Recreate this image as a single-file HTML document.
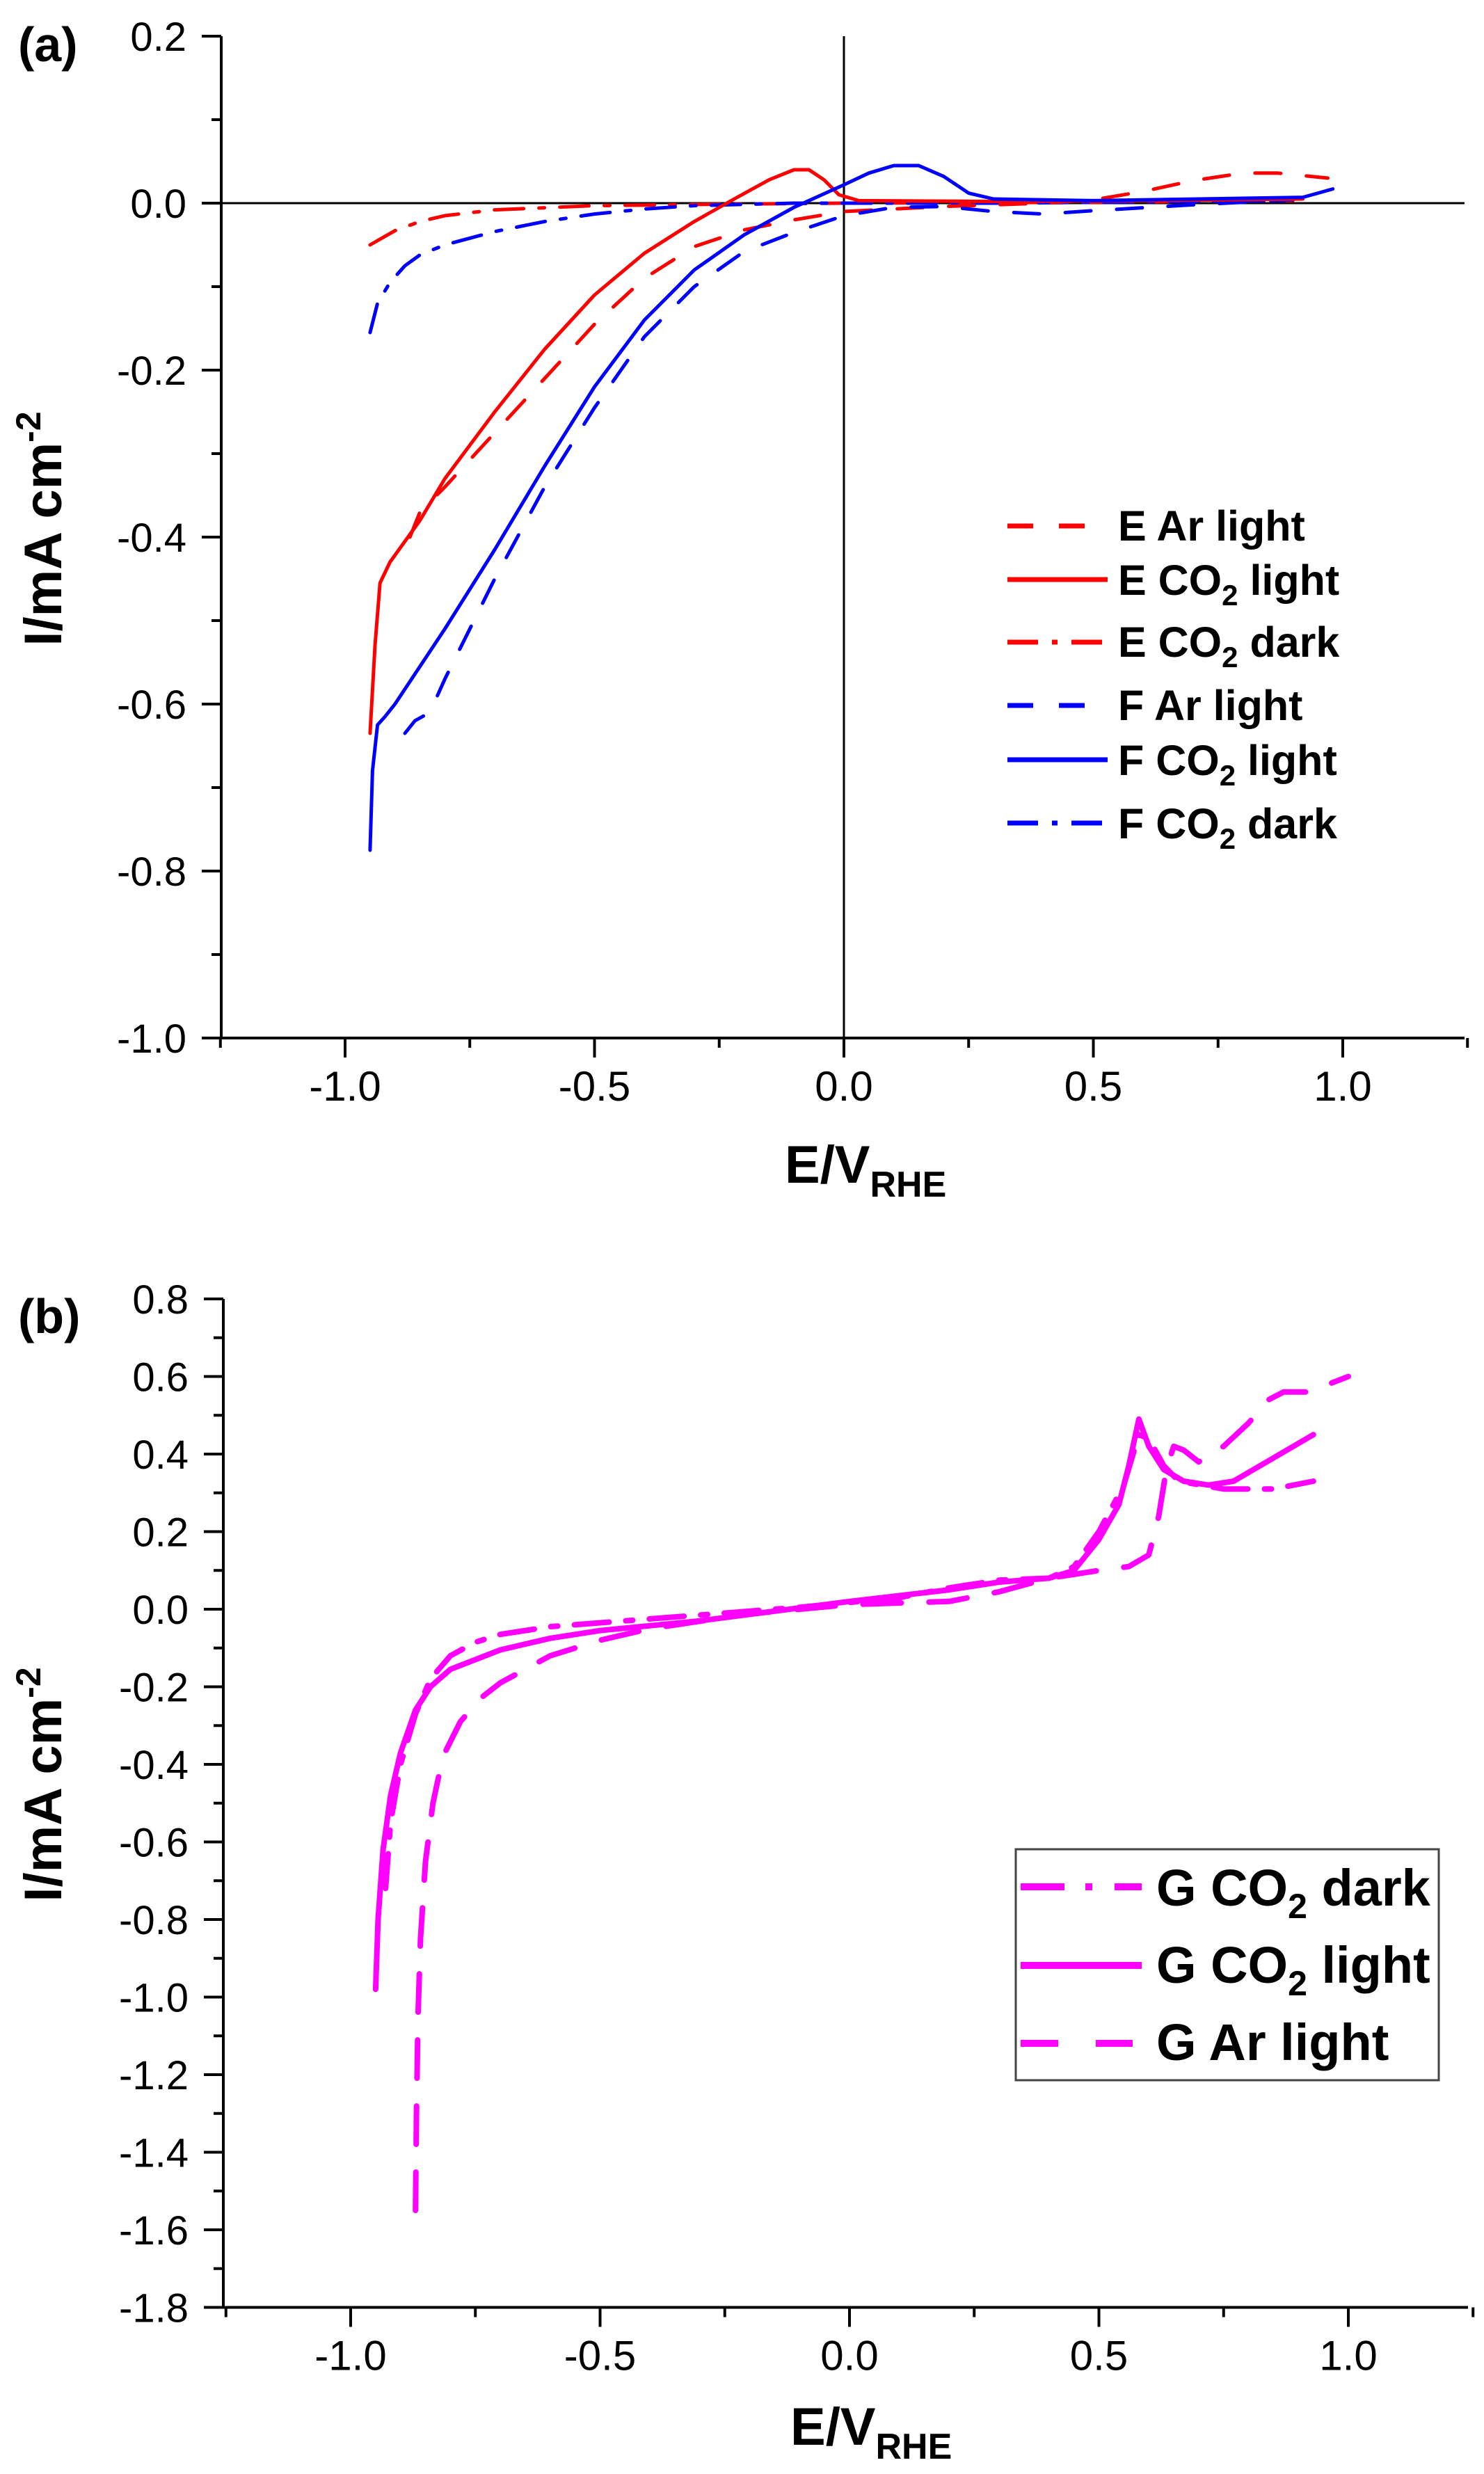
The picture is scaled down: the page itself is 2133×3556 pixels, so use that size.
<!DOCTYPE html>
<html><head><meta charset="utf-8"><style>
html,body{margin:0;padding:0;background:#fff}
svg{display:block}
text{font-family:"Liberation Sans",Arial,sans-serif;fill:#000}
</style></head><body>
<svg id="s" width="2133" height="3556" viewBox="0 0 2133 3556" xmlns="http://www.w3.org/2000/svg">
<rect width="2133" height="3556" fill="#fff"/>
<g id="g"></g>
<!-- panel labels -->
<text x="26" y="88" font-size="70" font-weight="bold">(a)</text>
<text x="26" y="1916" font-size="70" font-weight="bold">(b)</text>
<!-- axis titles -->
<text x="1128" y="1700" font-size="76" font-weight="bold">E/V<tspan font-size="52" dy="20">RHE</tspan></text>
<text x="1136" y="3514" font-size="76" font-weight="bold">E/V<tspan font-size="52" dy="20">RHE</tspan></text>
<text transform="translate(88,760) rotate(-90)" font-size="76" font-weight="bold" text-anchor="middle">I/mA cm<tspan font-size="50" dy="-30">-2</tspan></text>
<text transform="translate(88,2565) rotate(-90)" font-size="76" font-weight="bold" text-anchor="middle">I/mA cm<tspan font-size="50" dy="-30">-2</tspan></text>
<!-- legend a -->
<g font-size="61" font-weight="bold">
<text x="1607" y="777">E Ar light</text>
<text x="1607" y="855">E CO<tspan font-size="42" dy="15">2</tspan><tspan dy="-15"> light</tspan></text>
<text x="1607" y="944">E CO<tspan font-size="42" dy="15">2</tspan><tspan dy="-15"> dark</tspan></text>
<text x="1607" y="1035">F Ar light</text>
<text x="1607" y="1114">F CO<tspan font-size="42" dy="15">2</tspan><tspan dy="-15"> light</tspan></text>
<text x="1607" y="1205">F CO<tspan font-size="42" dy="15">2</tspan><tspan dy="-15"> dark</tspan></text>
</g>
<g stroke-width="7" fill="none">
<line x1="1448" y1="756" x2="1590" y2="756" stroke="#f00" stroke-dasharray="37,37"/>
<line x1="1448" y1="833" x2="1592" y2="833" stroke="#f00"/>
<line x1="1448" y1="923" x2="1585" y2="923" stroke="#f00" stroke-dasharray="44,20,8,20"/>
<line x1="1448" y1="1014" x2="1590" y2="1014" stroke="#00f" stroke-dasharray="37,37"/>
<line x1="1448" y1="1092" x2="1592" y2="1092" stroke="#00f"/>
<line x1="1448" y1="1183" x2="1585" y2="1183" stroke="#00f" stroke-dasharray="44,20,8,20"/>
</g>
<!-- legend b -->
<rect x="1460" y="2658" width="608" height="332" fill="#fff" stroke="#444" stroke-width="3"/>
<g font-size="74" font-weight="bold">
<text x="1662" y="2739">G CO<tspan font-size="50" dy="18">2</tspan><tspan dy="-18"> dark</tspan></text>
<text x="1662" y="2850">G CO<tspan font-size="50" dy="18">2</tspan><tspan dy="-18"> light</tspan></text>
<text x="1662" y="2961">G Ar light</text>
</g>
<g stroke="#f0f" stroke-width="10" fill="none">
<line x1="1467" y1="2712" x2="1641" y2="2712" stroke-dasharray="63,30,10,32"/>
<line x1="1467" y1="2825" x2="1641" y2="2825"/>
<line x1="1467" y1="2937" x2="1628" y2="2937" stroke-dasharray="54,54"/>
</g>
</svg>
<script>
var NS="http://www.w3.org/2000/svg",g=document.getElementById('g');
function el(t,a,p){var e=document.createElementNS(NS,t);for(var k in a)e.setAttribute(k,a[k]);(p||g).appendChild(e);return e;}
function txt(x,y,s,anchor,fs){var t=el('text',{x:x,y:y,'font-size':fs,'text-anchor':anchor});t.textContent=s;}
function fmt(v){var s=v.toFixed(1);if(s==="-0.0")s="0.0";return s;}
function axes(P){
 var L=P.left,R=P.right,T=P.Y(P.ymax),B=P.Y(P.ymin);
 el('line',{x1:L,y1:T,x2:L,y2:B+2,stroke:'#000','stroke-width':4});
 el('line',{x1:L-28,y1:B,x2:R,y2:B,stroke:'#000','stroke-width':4});
 for(var v=P.ymin;v<=P.ymax+1e-9;v+=0.1){
  var y=P.Y(v),maj=Math.abs(Math.round(v*10)%2)==0;
  el('line',{x1:maj?L-28:L-14,y1:y,x2:L,y2:y,stroke:'#000','stroke-width':4});
  if(maj)txt(L-50,y+21,fmt(v),'end',58);
 }
 for(var e=-1.25;e<=1.25+1e-9;e+=0.25){
  var x=P.X(e),maj=Math.abs(Math.round(e*4)%2)==0;
  el('line',{x1:x,y1:B,x2:x,y2:B+(maj?28:14),stroke:'#000','stroke-width':4});
  if(maj)txt(x,B+90,fmt(e),'middle',60);
 }
}
function curve(P,pts,col,w,dash){
 var d='';for(var i=0;i<pts.length;i++){d+=(i?'L':'M')+P.X(pts[i][0]).toFixed(1)+','+P.Y(pts[i][1]).toFixed(1);}
 var a={d:d,stroke:col,'stroke-width':w,fill:'none','stroke-linejoin':'round','stroke-linecap':'round'};
 if(dash)a['stroke-dasharray']=dash;el('path',a);
}
var A={left:318,right:2105,ymin:-1,ymax:0.2,X:function(e){return 1213+717*e},Y:function(i){return 292-1200*i}};
var B={left:321,right:2110,ymin:-1.8,ymax:0.8,X:function(e){return 1221+717*e},Y:function(i){return 2313-557.5*i}};
axes(A);axes(B);
el('line',{x1:A.left,y1:A.Y(0),x2:A.right,y2:A.Y(0),stroke:'#000','stroke-width':3});
el('line',{x1:A.X(0),y1:A.Y(0.2),x2:A.X(0),y2:A.Y(-1),stroke:'#000','stroke-width':3});
var R='#ff0000',Bl='#0000ff',M='#ff00ff',DA='37,37',DD='42,22,8,22';
curve(A,[[-0.95,-0.05],[-0.9,-0.033],[-0.85,-0.022],[-0.8,-0.015],[-0.7,-0.008],[-0.5,-0.003],[-0.2,-0.001],[0,0],[0.5,0.001],[0.9,0.003]],R,5,DD);
curve(A,[[-0.95,-0.155],[-0.935,-0.12],[-0.91,-0.095],[-0.88,-0.075],[-0.85,-0.062],[-0.8,-0.05],[-0.7,-0.034],[-0.6,-0.022],[-0.5,-0.013],[-0.4,-0.007],[-0.3,-0.003],[-0.1,0],[0.3,0],[0.9,0.003]],Bl,5,DD);
curve(A,[[-0.87,-0.40],[-0.85,-0.37],[-0.8,-0.34],[-0.7,-0.275],[-0.6,-0.21],[-0.5,-0.145],[-0.4,-0.09],[-0.3,-0.052],[-0.2,-0.032],[-0.1,-0.02],[0,-0.01],[0.2,-0.004],[0.4,0],[0.5,0.004],[0.6,0.014],[0.7,0.027],[0.8,0.036],[0.87,0.036],[0.97,0.03]],R,5,DA);
curve(A,[[-0.88,-0.635],[-0.86,-0.62],[-0.83,-0.61],[-0.8,-0.57],[-0.75,-0.51],[-0.7,-0.45],[-0.6,-0.34],[-0.5,-0.245],[-0.4,-0.16],[-0.3,-0.1],[-0.2,-0.058],[-0.1,-0.035],[0,-0.015],[0.1,-0.005],[0.2,-0.004],[0.3,-0.01],[0.4,-0.013],[0.5,-0.009],[0.7,-0.002],[0.9,0.004]],Bl,5,DA);
curve(A,[[-0.95,-0.635],[-0.94,-0.53],[-0.93,-0.455],[-0.91,-0.43],[-0.85,-0.38],[-0.8,-0.33],[-0.7,-0.25],[-0.6,-0.175],[-0.5,-0.11],[-0.4,-0.06],[-0.3,-0.022],[-0.22,0.005],[-0.15,0.028],[-0.1,0.04],[-0.07,0.04],[-0.04,0.028],[-0.01,0.01],[0.03,0.003],[0.3,0.002],[0.6,0.003],[0.92,0.005]],R,5);
curve(A,[[-0.95,-0.775],[-0.945,-0.68],[-0.935,-0.625],[-0.92,-0.615],[-0.9,-0.6],[-0.8,-0.51],[-0.7,-0.415],[-0.6,-0.315],[-0.5,-0.22],[-0.4,-0.14],[-0.3,-0.08],[-0.2,-0.038],[-0.1,-0.005],[0,0.022],[0.05,0.036],[0.1,0.045],[0.15,0.045],[0.2,0.032],[0.25,0.012],[0.3,0.005],[0.5,0.003],[0.92,0.007],[0.95,0.012],[0.98,0.017]],Bl,5);
curve(B,[[-0.87,-1.55],[-0.868,-1.3],[-0.865,-1.05],[-0.86,-0.85],[-0.85,-0.65],[-0.835,-0.5],[-0.815,-0.38],[-0.78,-0.29],[-0.74,-0.23],[-0.7,-0.19],[-0.6,-0.12],[-0.5,-0.08],[-0.4,-0.05],[-0.2,-0.012],[0,0.012],[0.2,0.02],[0.3,0.045],[0.4,0.08],[0.5,0.1],[0.56,0.11],[0.6,0.14],[0.62,0.24],[0.635,0.36],[0.65,0.42],[0.67,0.41],[0.7,0.38],[0.75,0.42],[0.8,0.48],[0.84,0.54],[0.87,0.56],[0.92,0.56],[1.0,0.6]],M,8,'55,40');
curve(B,[[-0.93,-0.72],[-0.92,-0.55],[-0.9,-0.4],[-0.87,-0.27],[-0.84,-0.18],[-0.8,-0.12],[-0.75,-0.085],[-0.7,-0.065],[-0.6,-0.045],[-0.4,-0.025],[-0.1,0.005],[0.1,0.03],[0.2,0.055],[0.3,0.075],[0.4,0.08],[0.45,0.11],[0.5,0.2],[0.55,0.32],[0.58,0.45],[0.6,0.44],[0.63,0.37],[0.66,0.33],[0.75,0.31],[0.85,0.31],[0.93,0.33]],M,8,'50,24,10,24');
curve(B,[[-0.95,-0.98],[-0.945,-0.8],[-0.935,-0.62],[-0.92,-0.48],[-0.9,-0.37],[-0.87,-0.26],[-0.84,-0.2],[-0.8,-0.155],[-0.7,-0.105],[-0.6,-0.075],[-0.5,-0.055],[-0.3,-0.03],[0,0.02],[0.2,0.05],[0.3,0.07],[0.4,0.08],[0.45,0.1],[0.5,0.18],[0.54,0.27],[0.56,0.37],[0.58,0.49],[0.6,0.42],[0.63,0.36],[0.67,0.33],[0.72,0.32],[0.77,0.33],[0.85,0.39],[0.93,0.45]],M,8);
</script>
</body></html>
